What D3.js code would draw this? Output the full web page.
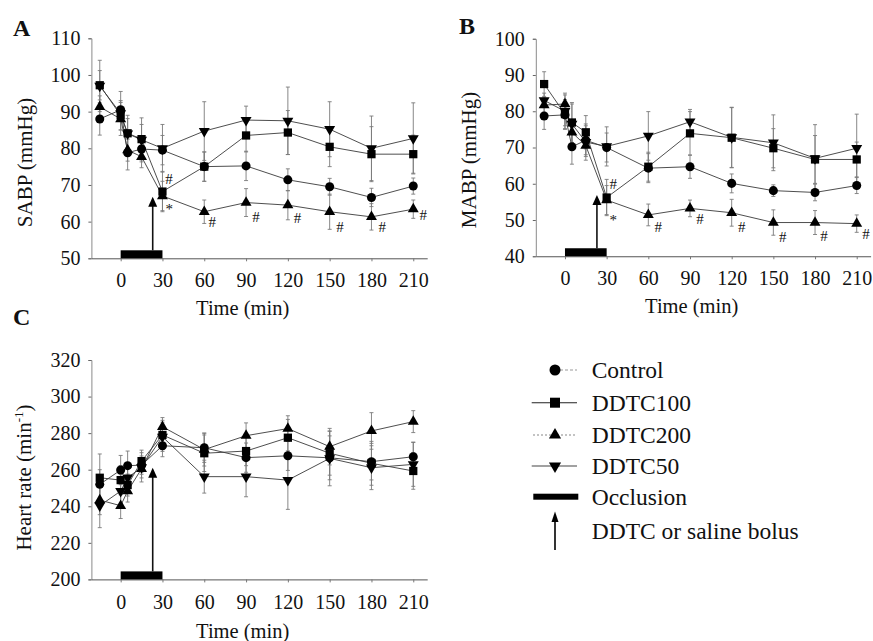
<!DOCTYPE html>
<html><head><meta charset="utf-8">
<script src="https://cdn.jsdelivr.net/npm/d3@7"></script>
<style>
body{margin:0;background:#fff}
svg{display:block}
text{font-family:"Liberation Serif","Times New Roman",serif;fill:#111}
</style>
</head><body>
<svg id="chart" width="873" height="641"></svg>
<script>
// ---------- DATA ----------
const times = [-15, 0, 5, 15, 30, 60, 90, 120, 150, 180, 210];
const xTickValues = [0, 30, 60, 90, 120, 150, 180, 210];
const seriesNames = ["Control", "DDTC100", "DDTC200", "DDTC50"];

// Panel A: SABP (mmHg)
const sabpControl = [88, 90.5, 78.8, 79.8, 79.5, 75, 75.2, 71.4, 69.5, 66.6, 69.7];
const sabpDDTC100 = [97.2, 89, 84.1, 82.5, 68.2, 75, 83.5, 84.3, 80.4, 78.4, 78.4];
const sabpDDTC200 = [91.3, 88, 79.5, 77.7, 67, 62.7, 65.2, 64.5, 62.7, 61.3, 63.4];
const sabpDDTC50  = [97, 89.5, 84, 82.3, 80, 84.7, 87.7, 87.5, 85.2, 80, 82.7];
const sabpErrControl = [4.4, 2, 4.7, 3, 4, 4, 4, 3, 2.3, 2.5, 2.2];
const sabpErrDDTC100 = [4, 4, 4, 4, 5.5, 4, 4.5, 6, 5.4, 7.5, 5.2];
const sabpErrDDTC200 = [3, 3, 3, 3, 4, 3.2, 3.8, 4, 4.8, 3.6, 2.5];
const sabpErrDDTC50  = [7, 6, 5, 6, 6.5, 8, 3.8, 9.2, 7.5, 8.8, 9.7];
const sabpTicks = [50, 60, 70, 80, 90, 100, 110];
const sabpSignif = [[34.7, 71.6, "#"], [34.9, 64.1, "*"], [65.7, 60, "#"], [97.1, 61.4, "#"], [127, 60.9, "#"], [157.4, 58.5, "#"], [187.8, 58.5, "#"], [217.2, 61.8, "#"]];

// Panel B: MABP (mmHg)
const mabpControl = [78.7, 79, 70.2, 72, 70, 64.3, 64.7, 60.1, 58.1, 57.6, 59.5];
const mabpDDTC100 = [87.5, 79.2, 76.9, 74.2, 56.2, 64.7, 73.9, 72.7, 69.8, 66.7, 66.7];
const mabpDDTC200 = [81.7, 82, 74.2, 70.5, 55.5, 51.4, 53.2, 52, 49.3, 49.3, 49];
const mabpDDTC50  = [83, 80, 76.5, 71.5, 70.3, 73.2, 77.1, 72.8, 71.3, 67, 69.8];
const mabpErrControl = [3.7, 3, 4.8, 4, 4, 4, 3.2, 2.6, 1.6, 2.3, 2.2];
const mabpErrDDTC100 = [3.4, 4, 5.5, 4.6, 5, 4, 6, 8.3, 5.4, 6.6, 4.8];
const mabpErrDDTC200 = [2, 2.5, 3, 3, 4, 3, 2.3, 3.7, 3.5, 3.3, 2.4];
const mabpErrDDTC50  = [2, 5, 5.5, 5, 5.4, 6.7, 3.4, 8.3, 7.7, 9.3, 9.4];
const mabpTicks = [40, 50, 60, 70, 80, 90, 100];
const mabpSignif = [[34.8, 60, "#"], [34.8, 50.7, "*"], [67.2, 48.2, "#"], [97.2, 50.2, "#"], [127.2, 48, "#"], [156.7, 45.4, "#"], [186.5, 45.5, "#"], [216.7, 46.3, "#"]];

// Panel C: Heart rate (min-1)
const hrControl = [252, 259.8, 262.2, 262.5, 273.1, 272, 266.6, 267.6, 266.5, 264.4, 267.1];
const hrDDTC100 = [255.6, 254.3, 251.6, 264.7, 279, 269, 270.2, 277.5, 269, 263.5, 259.3];
const hrDDTC200 = [243.4, 240.3, 248.3, 260.5, 283.5, 271, 278.6, 282.5, 272.6, 281.2, 286.3];
const hrDDTC50  = [240.3, 248.3, 255.6, 261.3, 278, 256.2, 256.2, 254.3, 266.2, 261.1, 262.9];
const hrErrControl = [8, 8, 8, 5, 6, 8, 8, 8, 12, 10, 8];
const hrErrDDTC100 = [13, 8, 6, 6, 8, 10, 8, 10, 12, 12, 10];
const hrErrDDTC200 = [8, 7, 6, 5, 5, 9, 7, 7, 10, 10, 6];
const hrErrDDTC50  = [12, 9, 8, 8, 8, 9, 11, 16, 15, 12, 12];
const hrTicks = [200, 220, 240, 260, 280, 300, 320];
const hrSignif = [];

// Occlusion period and bolus time (min), bolus arrow tip value per panel
const occlusionPeriod = [0, 30];
const bolusTime = 23;
const bolusTipValues = [66.8, 56.9, 261];

// ---------- LAYOUT ----------
const FONT = '"Liberation Serif","Times New Roman",serif';
const svg = d3.select("#chart");
const symbolTypes = [d3.symbolCircle, d3.symbolSquare, d3.symbolTriangle, d3.symbolTriangle];
const symbolSizes = [64, 68, 52, 52];
const symbolRotate = [0, 0, 0, 180];

const panels = [
  {letter: "A", lx: 13, ly: 36, xr: [91.4, 427.2], yr: [258.3, 38.3], dom: [50, 110], ticks: sabpTicks,
   series: [sabpControl, sabpDDTC100, sabpDDTC200, sabpDDTC50],
   errs: [sabpErrControl, sabpErrDDTC100, sabpErrDDTC200, sabpErrDDTC50],
   signif: sabpSignif, tip: bolusTipValues[0],
   ylab: {x: 31.5, y: 162.5, text: "SABP (mmHg)"}, xlab: {x: 242.7, y: 314.5}},
  {letter: "B", lx: 459, ly: 34, xr: [535.8, 870.6], yr: [256.25, 38.75], dom: [40, 100], ticks: mabpTicks,
   series: [mabpControl, mabpDDTC100, mabpDDTC200, mabpDDTC50],
   errs: [mabpErrControl, mabpErrDDTC100, mabpErrDDTC200, mabpErrDDTC50],
   signif: mabpSignif, tip: bolusTipValues[1],
   ylab: {x: 476, y: 160, text: "MABP (mmHg)"}, xlab: {x: 691.7, y: 313}},
  {letter: "C", lx: 13, ly: 325, xr: [91.4, 427.2], yr: [579.4, 360], dom: [200, 320], ticks: hrTicks,
   series: [hrControl, hrDDTC100, hrDDTC200, hrDDTC50],
   errs: [hrErrControl, hrErrDDTC100, hrErrDDTC200, hrErrDDTC50],
   signif: hrSignif, tip: bolusTipValues[2],
   ylab: {x: 31, y: 477.5, text: "Heart rate (min", sup: "-1", tail: ")"}, xlab: {x: 242.7, y: 638}}
];

panels.forEach(p => {
  const x = d3.scaleLinear().domain([-21, 220]).range(p.xr);
  const y = d3.scaleLinear().domain(p.dom).range(p.yr);
  const g = svg.append("g");

  // axes
  const yAxis = g.append("g").attr("transform", `translate(${p.xr[0]},0)`)
    .call(d3.axisLeft(y).tickValues(p.ticks).tickSize(3).tickPadding(8).tickFormat(d3.format("d")));
  yAxis.attr("font-family", FONT);
  yAxis.select(".domain").attr("stroke", "#8a8a8a").attr("stroke-width", 1);
  yAxis.selectAll(".tick line").attr("stroke", "#666");
  yAxis.selectAll("text").attr("font-size", 20).attr("fill", "#111");

  const xAxis = g.append("g").attr("transform", `translate(0,${p.yr[0]})`)
    .call(d3.axisBottom(x).tickValues(xTickValues).tickSize(3).tickPadding(12).tickSizeOuter(0));
  xAxis.attr("font-family", FONT);
  xAxis.select(".domain").attr("stroke", "#555").attr("stroke-width", 1);
  xAxis.selectAll(".tick line").attr("stroke", "#777");
  xAxis.selectAll("text").attr("font-size", 20).attr("fill", "#111");

  // connecting lines
  const line = d3.line().x((d, i) => x(times[i])).y(d => y(d));
  p.series.forEach((s, k) => {
    g.append("path").datum(s).attr("d", line).attr("fill", "none")
      .attr("stroke", "#3a3a3a").attr("stroke-width", 0.9);
  });

  // error bars
  p.series.forEach((s, k) => {
    const e = p.errs[k];
    const eg = g.append("g").attr("stroke", "#7a7a7a").attr("stroke-width", 0.9);
    s.forEach((v, i) => {
      const cx = x(times[i]);
      eg.append("line").attr("x1", cx).attr("x2", cx).attr("y1", y(v - e[i])).attr("y2", y(v + e[i]));
      eg.append("line").attr("x1", cx - 2).attr("x2", cx + 2).attr("y1", y(v + e[i])).attr("y2", y(v + e[i]));
      eg.append("line").attr("x1", cx - 2).attr("x2", cx + 2).attr("y1", y(v - e[i])).attr("y2", y(v - e[i]));
    });
  });

  // markers
  p.series.forEach((s, k) => {
    const sym = d3.symbol().type(symbolTypes[k]).size(symbolSizes[k]);
    g.append("g").selectAll("path").data(s).join("path")
      .attr("d", sym)
      .attr("transform", (d, i) => `translate(${x(times[i])},${y(d)}) rotate(${symbolRotate[k]})`)
      .attr("fill", "#000");
  });

  // occlusion bar
  g.append("rect").attr("x", x(occlusionPeriod[0])).attr("width", x(occlusionPeriod[1]) - x(occlusionPeriod[0]))
    .attr("y", p.yr[0] - 8).attr("height", 8).attr("fill", "#000");

  // bolus arrow
  const ax = x(bolusTime), ty = y(p.tip);
  g.append("line").attr("x1", ax).attr("x2", ax).attr("y1", p.yr[0] - 8).attr("y2", ty + 9)
    .attr("stroke", "#111").attr("stroke-width", 1.6);
  g.append("path").attr("d", `M${ax},${ty} L${ax - 4.5},${ty + 10} L${ax + 4.5},${ty + 10} Z`).attr("fill", "#000");

  // significance marks
  p.signif.forEach(([t, v, s]) => {
    g.append("text").attr("x", x(t)).attr("y", y(v)).attr("dy", s === "*" ? "0.5em" : "0.34em")
      .attr("text-anchor", "middle").attr("font-size", 15).text(s);
  });

  // labels
  g.append("text").attr("x", p.lx).attr("y", p.ly).attr("font-size", 24).attr("font-weight", "bold").text(p.letter);
  const yl = g.append("text").attr("transform", `translate(${p.ylab.x},${p.ylab.y}) rotate(-90)`)
    .attr("text-anchor", "middle").attr("font-size", 21);
  yl.append("tspan").text(p.ylab.text);
  if (p.ylab.sup) {
    yl.append("tspan").attr("font-size", 13).attr("dy", -8).text(p.ylab.sup);
    yl.append("tspan").attr("dy", 8).text(p.ylab.tail);
  }
  g.append("text").attr("x", p.xlab.x).attr("y", p.xlab.y).attr("text-anchor", "middle")
    .attr("font-size", 20.5).text("Time (min)");
});

// ---------- LEGEND ----------
const legend = svg.append("g");
const legendRows = [370, 402.7, 435, 466, 496.7, 530.7];
const legendLabels = seriesNames.concat(["Occlusion", "DDTC or saline bolus"]);
const legendLineStart = [560, 531.7, 533, 531.7];
const legendDash = ["3,2", null, "2,2", null];
const legendLineColor = ["#999", "#222", "#888", "#444"];
const legendSizes = [95, 100, 64, 64];
seriesNames.forEach((n, k) => {
  const yy = legendRows[k];
  legend.append("line").attr("x1", legendLineStart[k]).attr("x2", 577).attr("y1", yy).attr("y2", yy)
    .attr("stroke", legendLineColor[k]).attr("stroke-width", 1.1).attr("stroke-dasharray", legendDash[k]);
  legend.append("path").attr("d", d3.symbol().type(symbolTypes[k]).size(legendSizes[k]))
    .attr("transform", `translate(555,${yy}) rotate(${symbolRotate[k]})`).attr("fill", "#000");
});
legend.append("rect").attr("x", 533.3).attr("width", 45).attr("y", legendRows[4] - 3).attr("height", 6).attr("fill", "#000");
legend.append("line").attr("x1", 555).attr("x2", 555).attr("y1", 520).attr("y2", 550).attr("stroke", "#000").attr("stroke-width", 1.6);
legend.append("path").attr("d", "M555,511.5 L551.5,522 L558.5,522 Z").attr("fill", "#000");
legendLabels.forEach((n, k) => {
  legend.append("text").attr("x", 591.7).attr("y", legendRows[k]).attr("dy", "0.35em")
    .attr("font-size", 23.5).text(n);
});

svg.selectAll("text").style("font-family", FONT);
</script>
</body></html>
